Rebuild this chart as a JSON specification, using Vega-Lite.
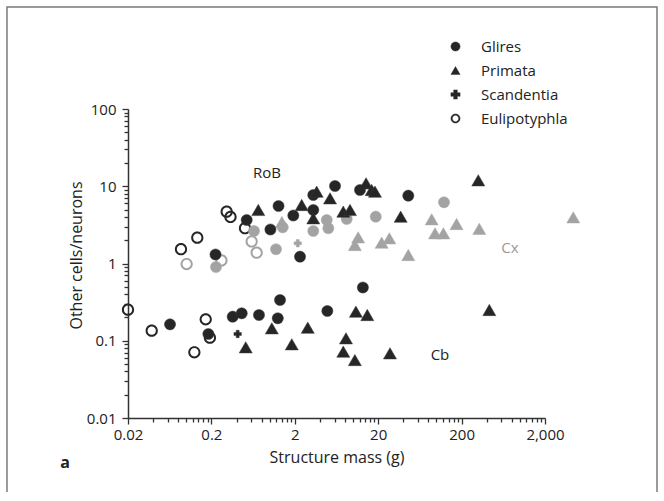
{
  "$schema": "https://vega.github.io/schema/vega-lite/v6.json",
  "width": 417,
  "height": 309,
  "autosize": {"type": "none"},
  "padding": {"left": 128, "top": 109, "right": 119, "bottom": 74},
  "background": "white",
  "config": {"view": {"stroke": null}, "font": "Open Sans"},
  "datasets": {
    "points": [
      {"mass": 0.305, "ratio": 4.685, "order": "Eulipotyphla", "structure": "RoB"},
      {"mass": 0.339, "ratio": 4.0, "order": "Eulipotyphla", "structure": "RoB"},
      {"mass": 0.1355, "ratio": 2.16, "order": "Eulipotyphla", "structure": "RoB"},
      {"mass": 0.0864, "ratio": 1.53, "order": "Eulipotyphla", "structure": "RoB"},
      {"mass": 0.506, "ratio": 2.86, "order": "Eulipotyphla", "structure": "RoB"},
      {"mass": 0.101, "ratio": 0.985, "order": "Eulipotyphla", "structure": "Cx"},
      {"mass": 0.264, "ratio": 1.094, "order": "Eulipotyphla", "structure": "Cx"},
      {"mass": 0.608, "ratio": 1.927, "order": "Eulipotyphla", "structure": "Cx"},
      {"mass": 0.698, "ratio": 1.38, "order": "Eulipotyphla", "structure": "Cx"},
      {"mass": 0.02, "ratio": 0.2523, "order": "Eulipotyphla", "structure": "Cb"},
      {"mass": 0.0385, "ratio": 0.135, "order": "Eulipotyphla", "structure": "Cb"},
      {"mass": 0.171, "ratio": 0.1895, "order": "Eulipotyphla", "structure": "Cb"},
      {"mass": 0.125, "ratio": 0.0709, "order": "Eulipotyphla", "structure": "Cb"},
      {"mass": 0.192, "ratio": 0.1095, "order": "Eulipotyphla", "structure": "Cb"},

      {"mass": 0.227, "ratio": 0.901, "order": "Glires", "structure": "Cx"},
      {"mass": 0.648, "ratio": 2.635, "order": "Glires", "structure": "Cx"},
      {"mass": 1.43, "ratio": 2.94, "order": "Glires", "structure": "Cx"},
      {"mass": 1.19, "ratio": 1.53, "order": "Glires", "structure": "Cx"},
      {"mass": 3.33, "ratio": 2.635, "order": "Glires", "structure": "Cx"},
      {"mass": 4.83, "ratio": 3.656, "order": "Glires", "structure": "Cx"},
      {"mass": 5.05, "ratio": 2.86, "order": "Glires", "structure": "Cx"},
      {"mass": 8.38, "ratio": 3.77, "order": "Glires", "structure": "Cx"},
      {"mass": 18.7, "ratio": 4.035, "order": "Glires", "structure": "Cx"},
      {"mass": 123, "ratio": 6.2, "order": "Glires", "structure": "Cx"},

      {"mass": 1.4, "ratio": 3.44, "order": "Primata", "structure": "Cx"},
      {"mass": 11.5, "ratio": 2.184, "order": "Primata", "structure": "Cx"},
      {"mass": 10.5, "ratio": 1.736, "order": "Primata", "structure": "Cx"},
      {"mass": 22.0, "ratio": 1.859, "order": "Primata", "structure": "Cx"},
      {"mass": 27.2, "ratio": 2.12, "order": "Primata", "structure": "Cx"},
      {"mass": 45.9, "ratio": 1.288, "order": "Primata", "structure": "Cx"},
      {"mass": 87.6, "ratio": 3.735, "order": "Primata", "structure": "Cx"},
      {"mass": 96, "ratio": 2.46, "order": "Primata", "structure": "Cx"},
      {"mass": 121, "ratio": 2.46, "order": "Primata", "structure": "Cx"},
      {"mass": 174, "ratio": 3.245, "order": "Primata", "structure": "Cx"},
      {"mass": 326, "ratio": 2.81, "order": "Primata", "structure": "Cx"},
      {"mass": 4366, "ratio": 3.96, "order": "Primata", "structure": "Cx"},

      {"mass": 2.17, "ratio": 1.826, "order": "Scandentia", "structure": "Cx"},
      {"mass": 0.413, "ratio": 0.1223, "order": "Scandentia", "structure": "Cb"},

      {"mass": 0.224, "ratio": 1.308, "order": "Glires", "structure": "RoB"},
      {"mass": 0.53, "ratio": 3.656, "order": "Glires", "structure": "RoB"},
      {"mass": 1.276, "ratio": 5.55, "order": "Glires", "structure": "RoB"},
      {"mass": 1.02, "ratio": 2.754, "order": "Glires", "structure": "RoB"},
      {"mass": 1.92, "ratio": 4.18, "order": "Glires", "structure": "RoB"},
      {"mass": 2.31, "ratio": 1.225, "order": "Glires", "structure": "RoB"},
      {"mass": 3.33, "ratio": 7.7, "order": "Glires", "structure": "RoB"},
      {"mass": 3.33, "ratio": 4.93, "order": "Glires", "structure": "RoB"},
      {"mass": 6.07, "ratio": 10.07, "order": "Glires", "structure": "RoB"},
      {"mass": 12.1, "ratio": 8.94, "order": "Glires", "structure": "RoB"},
      {"mass": 45.9, "ratio": 7.55, "order": "Glires", "structure": "RoB"},

      {"mass": 0.73, "ratio": 4.93, "order": "Primata", "structure": "RoB"},
      {"mass": 2.42, "ratio": 5.72, "order": "Primata", "structure": "RoB"},
      {"mass": 3.66, "ratio": 8.5, "order": "Primata", "structure": "RoB"},
      {"mass": 5.29, "ratio": 6.98, "order": "Primata", "structure": "RoB"},
      {"mass": 3.33, "ratio": 3.85, "order": "Primata", "structure": "RoB"},
      {"mass": 7.63, "ratio": 4.685, "order": "Primata", "structure": "RoB"},
      {"mass": 9.18, "ratio": 4.93, "order": "Primata", "structure": "RoB"},
      {"mass": 14.3, "ratio": 10.92, "order": "Primata", "structure": "RoB"},
      {"mass": 16.7, "ratio": 8.94, "order": "Primata", "structure": "RoB"},
      {"mass": 18.3, "ratio": 8.5, "order": "Primata", "structure": "RoB"},
      {"mass": 37.2, "ratio": 4.035, "order": "Primata", "structure": "RoB"},
      {"mass": 317, "ratio": 11.94, "order": "Primata", "structure": "RoB"},

      {"mass": 0.0638, "ratio": 0.163, "order": "Glires", "structure": "Cb"},
      {"mass": 0.184, "ratio": 0.1223, "order": "Glires", "structure": "Cb"},
      {"mass": 0.36, "ratio": 0.2048, "order": "Glires", "structure": "Cb"},
      {"mass": 0.462, "ratio": 0.2266, "order": "Glires", "structure": "Cb"},
      {"mass": 0.744, "ratio": 0.2154, "order": "Glires", "structure": "Cb"},
      {"mass": 1.33, "ratio": 0.337, "order": "Glires", "structure": "Cb"},
      {"mass": 1.25, "ratio": 0.1953, "order": "Glires", "structure": "Cb"},
      {"mass": 4.91, "ratio": 0.2427, "order": "Glires", "structure": "Cb"},
      {"mass": 13.1, "ratio": 0.489, "order": "Glires", "structure": "Cb"},

      {"mass": 0.516, "ratio": 0.0823, "order": "Primata", "structure": "Cb"},
      {"mass": 1.06, "ratio": 0.145, "order": "Primata", "structure": "Cb"},
      {"mass": 1.84, "ratio": 0.09, "order": "Primata", "structure": "Cb"},
      {"mass": 2.86, "ratio": 0.1476, "order": "Primata", "structure": "Cb"},
      {"mass": 8.22, "ratio": 0.1076, "order": "Primata", "structure": "Cb"},
      {"mass": 7.63, "ratio": 0.0722, "order": "Primata", "structure": "Cb"},
      {"mass": 10.5, "ratio": 0.0563, "order": "Primata", "structure": "Cb"},
      {"mass": 10.8, "ratio": 0.2377, "order": "Primata", "structure": "Cb"},
      {"mass": 14.8, "ratio": 0.2154, "order": "Primata", "structure": "Cb"},
      {"mass": 27.7, "ratio": 0.0688, "order": "Primata", "structure": "Cb"},
      {"mass": 430, "ratio": 0.25, "order": "Primata", "structure": "Cb"}
    ],
    "labels": [
      {"label": "RoB", "mass": 0.928, "ratio": 14.85},
      {"label": "Cx", "mass": 760, "ratio": 1.587},
      {"label": "Cb", "mass": 110, "ratio": 0.0654}
    ]
  },
  "layer": [
    {
      "data": {"values": [{}]},
      "mark": {"type": "rect", "fill": null, "stroke": "#7a7a7a", "strokeWidth": 1.5, "clip": false},
      "encoding": {
        "x": {"datum": 0.000708, "type": "quantitative"},
        "x2": {"datum": 44060},
        "y": {"datum": 2091, "type": "quantitative"},
        "y2": {"datum": 0.001038}
      }
    },
    {
      "data": {"name": "points"},
      "mark": {"type": "point", "filled": true, "opacity": 1},
      "encoding": {
        "x": {
          "field": "mass", "type": "quantitative",
          "scale": {"type": "log", "domain": [0.02, 2000], "nice": false, "clamp": false},
          "axis": {
            "title": "Structure mass (g)",
            "values": [0.02,0.04,0.06,0.08,0.1,0.12,0.14,0.16,0.18,0.2,0.4,0.6,0.8,1,1.2,1.4,1.6,1.8,2,4,6,8,10,12,14,16,18,20,40,60,80,100,120,140,160,180,200,400,600,800,1000,1200,1400,1600,1800,2000],
            "labelExpr": "abs(log(datum.value/0.02)/LN10 - round(log(datum.value/0.02)/LN10)) < 0.000001 ? format(datum.value, ',') : ''",
            "tickSize": {"condition": {"test": "abs(log(datum.value/0.02)/LN10 - round(log(datum.value/0.02)/LN10)) < 0.000001", "value": 6}, "value": 4},
            "grid": false, "domainColor": "#333333", "domainWidth": 1.5,
            "tickColor": "#333333", "tickWidth": 1.3,
            "labelFont": "Open Sans", "labelFontSize": 15, "labelColor": "#222222", "labelPadding": 3,
            "labelFlush": false, "labelOverlap": false,
            "titleFont": "Open Sans", "titleFontSize": 16, "titleFontWeight": "normal", "titleColor": "#222222", "titlePadding": 7
          }
        },
        "y": {
          "field": "ratio", "type": "quantitative",
          "scale": {"type": "log", "domain": [0.01, 100], "nice": false, "clamp": false},
          "axis": {
            "title": "Other cells/neurons",
            "values": [0.01,0.02,0.03,0.04,0.05,0.06,0.07,0.08,0.09,0.1,0.2,0.3,0.4,0.5,0.6,0.7,0.8,0.9,1,2,3,4,5,6,7,8,9,10,20,30,40,50,60,70,80,90,100],
            "labelExpr": "abs(log(datum.value)/LN10 - round(log(datum.value)/LN10)) < 0.000001 ? format(datum.value, ',') : ''",
            "tickSize": {"condition": {"test": "abs(log(datum.value)/LN10 - round(log(datum.value)/LN10)) < 0.000001", "value": 6}, "value": 4},
            "grid": false, "domainColor": "#333333", "domainWidth": 1.5,
            "tickColor": "#333333", "tickWidth": 1.3,
            "labelFont": "Open Sans", "labelFontSize": 15, "labelColor": "#222222", "labelPadding": 6,
            "labelFlush": false, "labelOverlap": false,
            "titleFont": "Open Sans", "titleFontSize": 16, "titleFontWeight": "normal", "titleColor": "#222222",
            "titleX": -52, "titleY": 146, "titleBaseline": "middle", "titleAlign": "center", "titleAngle": -90
          }
        },
        "shape": {
          "field": "order", "type": "nominal",
          "scale": {"domain": ["Glires", "Primata", "Scandentia", "Eulipotyphla"], "range": ["circle", "triangle-up", "cross", "M-1,0A1,1,0,1,0,1,0A1,1,0,1,0,-1,0ZM-0.68,0A0.68,0.68,0,1,1,0.68,0A0.68,0.68,0,1,1,-0.68,0Z"]},
          "legend": {
            "title": null, "orient": "none", "legendX": 320, "legendY": -70, "padding": 0,
            "labelFont": "Open Sans", "labelFontSize": 15, "labelColor": "#222222", "labelOffset": 18,
            "symbolSize": 85, "rowPadding": 8, "symbolStrokeWidth": 0.4,
            "symbolFillColor": "#262626", "symbolStrokeColor": "#262626"
          }
        },
        "fill": {
          "field": "structure", "type": "nominal",
          "scale": {"domain": ["RoB", "Cb", "Cx"], "range": ["#262626", "#262626", "#a3a3a3"]},
          "legend": null
        },
        "stroke": {
          "field": "structure", "type": "nominal",
          "scale": {"domain": ["RoB", "Cb", "Cx"], "range": ["#3a3a3a", "#3a3a3a", "#ababab"]},
          "legend": null
        },
        "strokeWidth": {"condition": {"test": "datum.order === 'Eulipotyphla'", "value": 0}, "value": 0.5},
        "size": {"condition": [
          {"test": "datum.order === 'Primata'", "value": 170},
          {"test": "datum.order === 'Scandentia'", "value": 55},
          {"test": "datum.order === 'Eulipotyphla'", "value": 150}
        ], "value": 125}
      }
    },
    {
      "data": {"name": "labels"},
      "mark": {"type": "text", "font": "Open Sans", "fontSize": 15, "align": "center", "baseline": "middle"},
      "encoding": {
        "x": {"field": "mass", "type": "quantitative"},
        "y": {"field": "ratio", "type": "quantitative"},
        "text": {"field": "label"},
        "color": {"condition": {"test": "datum.label === 'Cx'", "value": "#9a9a9a"}, "value": "#222222"}
      }
    },
    {
      "data": {"values": [{"label": "a", "mass": 0.00351, "ratio": 0.002615}]},
      "mark": {"type": "text", "font": "Open Sans", "fontSize": 16, "fontWeight": "bold", "align": "center", "baseline": "middle", "clip": false},
      "encoding": {
        "x": {"field": "mass", "type": "quantitative"},
        "y": {"field": "ratio", "type": "quantitative"},
        "text": {"field": "label"},
        "color": {"value": "#222222"}
      }
    }
  ]
}
